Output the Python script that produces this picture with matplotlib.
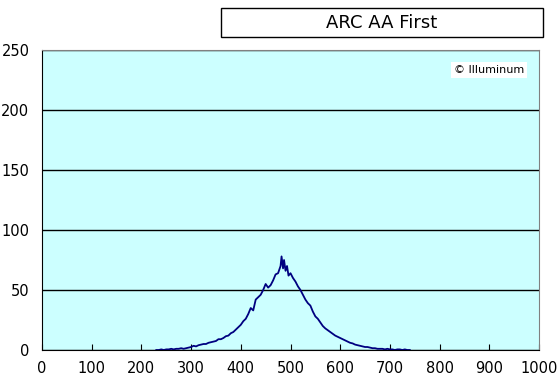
import matplotlib
matplotlib.use("Agg")
import matplotlib.pyplot as plt
from matplotlib.patches import Rectangle
import numpy as np

plt.rcParams['font.family'] = ['Liberation Sans Narrow', 'DejaVu Sans']

title = "ARC AA First"
credit = "\u00a9 Illuminum"

# histogram
xs = [230, 235, 240, 245, 250, 255, 260, 265, 270, 275, 280, 285, 290, 295,
      300, 305, 310, 315, 320, 325, 330, 335, 340, 345, 350, 355, 360, 365,
      370, 375, 380, 385, 390, 395, 400, 405, 410, 415, 420, 425, 430, 435,
      440, 445, 450, 455, 460, 465, 470, 475, 480, 482, 485, 487, 490, 493,
      496, 500, 505, 510, 515, 520, 525, 530, 535, 540, 545, 550, 555, 560,
      565, 570, 575, 580, 585, 590, 595, 600, 605, 610, 615, 620, 625, 630,
      635, 640, 645, 650, 655, 660, 665, 670, 675, 680, 685, 690, 695, 700,
      705, 710, 715, 720, 725, 730, 735, 740]
counts = [0, 0, 0.5, 0, 0.5, 0.5, 1, 0.5, 1, 1, 1.5, 1, 1.5, 2,
          2.5, 3.5, 3, 4, 4.5, 5, 5, 6, 6.5, 7, 7.5, 9, 9, 10,
          11.5, 12, 14, 15, 17, 19, 21, 24, 26, 30, 35, 33, 42, 44,
          46, 50, 55, 52, 54, 58, 63, 64, 70, 78, 68, 75, 66, 70,
          62, 64, 60, 57, 53, 50, 46, 42, 39, 37, 32, 28, 26, 23,
          20, 18, 16.5, 15, 13.5, 12, 11, 10, 9, 8, 7, 6, 5.5, 4.5,
          4, 3.5, 3, 2.5, 2.5, 2, 1.5, 1.5, 1, 1, 1, 0.5, 1, 0.5,
          0.5, 0, 0.5, 0.5, 0, 0.5, 0, 0]

xticks = list(range(0, 1001, 100))
yticks = list(range(0, 251, 50))

fig = plt.figure(figsize=(5.6, 3.78), dpi=100)
ax = fig.add_axes([42/560, 28/378, 497/560, 300/378])
ax.set_facecolor("#CCFFFF")

ax.plot(xs, counts, color="#000080", lw=1.3)

ax.set_xlim(0, 1000)
ax.set_ylim(0, 250)
ax.set_xticks(xticks)
ax.set_yticks(yticks)
ax.tick_params(axis="x", direction="in", length=4, pad=8, labelsize=10.5)
ax.tick_params(axis="y", direction="in", length=0, pad=9, labelsize=10.5)
ax.yaxis.grid(True, color="black", lw=1)
ax.set_axisbelow(True)
for s in ["top", "right"]:
    ax.spines[s].set_color("#808080")
for s in ["left", "bottom"]:
    ax.spines[s].set_color("black")

ax.text(0.90, 0.933, credit, transform=ax.transAxes, ha="center", va="center",
        fontsize=8, family=["DejaVu Sans"],
        bbox=dict(facecolor="white", edgecolor="none", pad=2))

fig.add_artist(Rectangle((221/560, 1 - 37/378), 322/560, 29/378,
                         transform=fig.transFigure, facecolor="white",
                         edgecolor="black", lw=1))
fig.text(382/560, 1 - 22.5/378, title, ha="center", va="center", fontsize=13,
         family=["DejaVu Sans"])

fig.savefig("out.png", dpi=100)
